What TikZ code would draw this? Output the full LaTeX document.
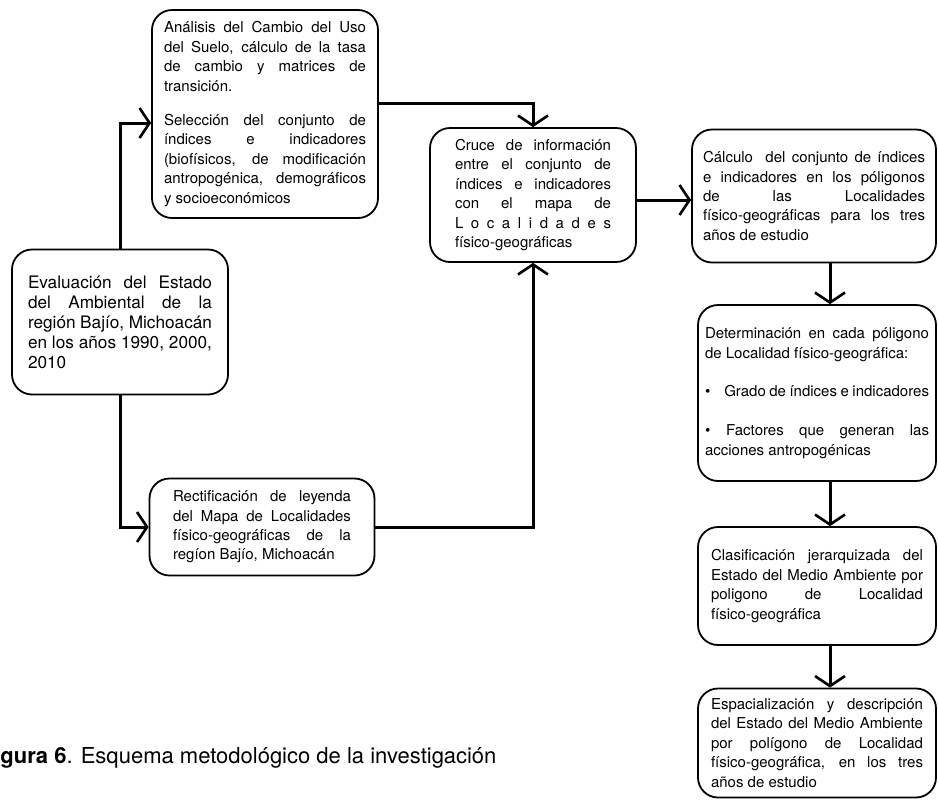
\documentclass[tikz,border=0pt]{standalone}
\usepackage{fontspec}
\setmainfont{TeX Gyre Heros}
\usetikzlibrary{positioning}
\usetikzlibrary{arrows.meta}
\usetikzlibrary{calc}

\begin{document}
\begin{tikzpicture}[x=0.5pt, y=-0.5pt,
  box/.style={draw, line width=0.9pt, rounded corners=10pt, align=justify, inner xsep=0pt, inner ysep=0pt, font=\fontsize{7.5}{9.7}\selectfont},
  arr/.style={line width=1.5pt, -{Straight Barb[length=5pt, width=15pt, line width=1.3pt]}}]
 % Fix the size of the page
 \useasboundingbox (0,0) rectangle (938,799);
 % x position of the arrows in the right column
 \coordinate (spine) at (830,0);

 % Left column
 \draw (120,322) node[box, text width=92pt, minimum width=108pt, minimum height=72.5pt, font=\fontsize{8.6}{10}\selectfont] (eval) {Evaluación del Estado\linebreak del Ambiental de la\linebreak región Bajío, Michoacán\linebreak en los años 1990, 2000,\linebreak 2010};
 \draw (265,114) node[box, text width=101pt, minimum width=113pt, minimum height=104pt] (ana) {Análisis del Cambio del Uso\linebreak del Suelo, cálculo de la tasa\linebreak de cambio y matrices de\linebreak transición.\\[7.5pt]Selección del conjunto de\linebreak índices e indicadores\linebreak (biofísicos, de modificación\linebreak antropogénica, demográficos\linebreak y socioeconómicos};
 \draw (262,527) node[box, text width=89pt, minimum width=112.5pt, minimum height=48.5pt] (rect) {Rectificación de leyenda\linebreak del Mapa de Localidades\linebreak físico-geográficas de la\linebreak regíon Bajío, Michoacán};

 % Middle box
 \draw (533,195) node[box, text width=78pt, minimum width=103pt, minimum height=67pt] (cruce) {Cruce de información\linebreak entre el conjunto de\linebreak índices e indicadores\linebreak con el mapa de\linebreak L o c a l i d a d e s\linebreak físico-geográficas};

 % Right column
 \draw (814,196) node[box, text width=111pt, minimum width=122pt, minimum height=66.5pt] (calculo) {Cálculo\ \ del conjunto de índices\linebreak e indicadores en los póligonos\linebreak de las Localidades\linebreak físico-geográficas para los tres\linebreak años de estudio};
 \draw (817,393) node[box, text width=112pt, minimum width=119pt, minimum height=88pt] (deter) {Determinación en cada póligono\linebreak de Localidad físico-geográfica:\\[9.7pt]\textbullet\hspace{7pt}Grado de índices e indicadores\\[9.7pt]\textbullet\hspace{8pt}Factores que generan las\linebreak acciones antropogénicas};
 \draw (817,586) node[box, text width=106pt, minimum width=119pt, minimum height=59pt] (clasif) {Clasificación jerarquizada del\linebreak Estado del Medio Ambiente por\linebreak poligono de Localidad\linebreak físico-geográfica};
 \draw (817,743) node[box, text width=106pt, minimum width=119pt, minimum height=54.5pt] (espac) {Espacialización y descripción\linebreak del Estado del Medio Ambiente\linebreak por polígono de Localidad\linebreak físico-geográfica, en los tres\linebreak años de estudio};

 % Caption
 \draw (0,763) node[anchor=base west, inner sep=0pt, font=\fontsize{11}{13}\selectfont] (caption) {\textbf{gura 6}. Esquema metodológico de la investigación};

 % Connectors
 \draw[arr] (eval.north) |- ([yshift=-4.5pt]ana.west);
 \draw[arr] (eval.south) |- (rect.west);
 \draw[arr] ([yshift=5.5pt]ana.east) -| (cruce.north);
 \draw[arr] (rect.east) -| (cruce.south);
 \draw[arr] ([yshift=-2.5pt]cruce.east) -- ([yshift=-2.5pt]cruce.east -| calculo.west);
 \foreach \a/\b in {calculo/deter, deter/clasif, clasif/espac}
  \draw[arr] (\a.south -| spine) -- (\b.north -| spine);
\end{tikzpicture}
\end{document}
